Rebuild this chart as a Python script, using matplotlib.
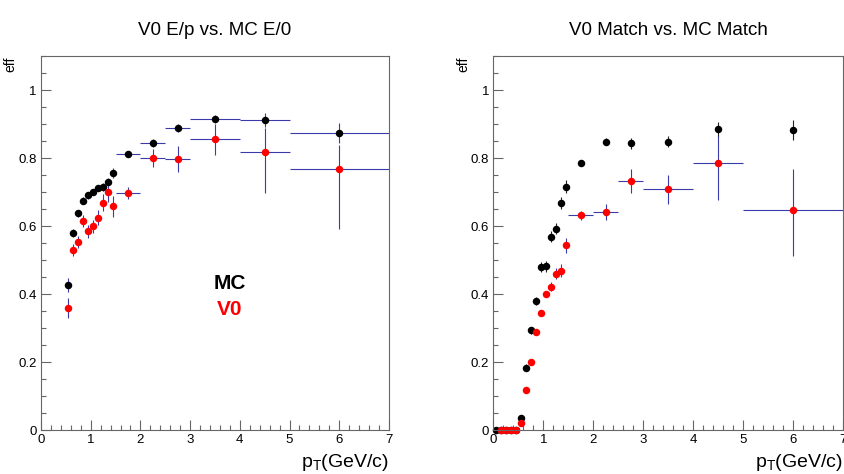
import matplotlib
matplotlib.use("Agg")
import matplotlib.pyplot as plt
from matplotlib.ticker import MultipleLocator
import numpy as np

plt.rcParams['font.family'] = ['Liberation Sans', 'DejaVu Sans']
plt.rcParams['mathtext.fontset'] = 'custom'
plt.rcParams['mathtext.rm'] = 'Liberation Sans'
plt.rcParams['mathtext.it'] = 'Liberation Sans'

# bin edges (GeV/c)
edges_ep = [0.5, 0.6, 0.7, 0.8, 0.9, 1.0, 1.1, 1.2, 1.3, 1.4, 1.5, 2.0, 2.5, 3.0, 4.0, 5.0, 7.0]
edges_mc_match = [0.0, 0.1, 0.2, 0.3, 0.4, 0.5, 0.6, 0.7, 0.8, 0.9, 1.0, 1.1, 1.2, 1.3, 1.4, 1.5,
                  2.0, 2.5, 3.0, 4.0, 5.0, 7.0]
edges_v0_match = edges_mc_match[1:]

# left panel: E/p
mc_ep = [0.427, 0.580, 0.638, 0.674, 0.690, 0.700, 0.712, 0.715, 0.729, 0.757,
         0.812, 0.843, 0.888, 0.915, 0.911, 0.874]
mc_ep_lo = [0.020, 0.012, 0.010, 0.010, 0.010, 0.010, 0.010, 0.011, 0.012, 0.015,
            0.006, 0.012, 0.012, 0.012, 0.020, 0.030]
mc_ep_hi = mc_ep_lo
v0_ep = [0.359, 0.530, 0.552, 0.615, 0.584, 0.599, 0.624, 0.669, 0.700, 0.658,
         0.697, 0.800, 0.798, 0.856, 0.818, 0.767]
v0_ep_lo = [0.030, 0.018, 0.018, 0.018, 0.018, 0.020, 0.022, 0.025, 0.028, 0.030,
            0.018, 0.027, 0.038, 0.046, 0.120, 0.176]
v0_ep_hi = [0.030, 0.018, 0.018, 0.018, 0.018, 0.020, 0.022, 0.025, 0.028, 0.030,
            0.018, 0.027, 0.036, 0.045, 0.070, 0.072]

# right panel: Match
mc_match = [0.0, 0.0, 0.0, 0.0, 0.0, 0.034, 0.183, 0.293, 0.380, 0.479, 0.481,
            0.569, 0.592, 0.668, 0.716, 0.785, 0.848, 0.844, 0.848, 0.885, 0.883]
mc_match_err = [0.0, 0.0, 0.0, 0.0, 0.0, 0.006, 0.010, 0.010, 0.012, 0.015, 0.015,
                0.016, 0.016, 0.017, 0.018, 0.005, 0.010, 0.016, 0.016, 0.022, 0.030]
v0_match = [0.0, 0.0, 0.0, 0.0, 0.022, 0.118, 0.201, 0.289, 0.344, 0.400,
            0.422, 0.460, 0.467, 0.544, 0.631, 0.642, 0.733, 0.709, 0.785, 0.648]
v0_match_lo = [0.0, 0.0, 0.0, 0.0, 0.004, 0.006, 0.006, 0.008, 0.008, 0.010,
               0.014, 0.016, 0.018, 0.022, 0.013, 0.024, 0.035, 0.045, 0.109, 0.137]
v0_match_hi = [0.0, 0.0, 0.0, 0.0, 0.004, 0.006, 0.006, 0.008, 0.008, 0.010,
               0.014, 0.016, 0.020, 0.022, 0.013, 0.023, 0.034, 0.042, 0.081, 0.121]

titles = ["V0 E/p vs. MC E/0", "V0 Match vs. MC Match"]

BLUE = '#3a3aa8'
FRAME = '#666666'


def centers(edges):
    e = np.array(edges)
    return (e[1:] + e[:-1]) / 2, (e[1:] - e[:-1]) / 2


def style_axes(ax, title):
    ax.set_xlim(0, 7)
    ax.set_ylim(0, 1.1)
    ax.xaxis.set_major_locator(MultipleLocator(1))
    ax.xaxis.set_minor_locator(MultipleLocator(0.2))
    ax.yaxis.set_minor_locator(MultipleLocator(0.05))
    ax.set_yticks([0, 0.2, 0.4, 0.6, 0.8, 1.0])
    ax.set_yticklabels(['0', '0.2', '0.4', '0.6', '0.8', '1'])
    ax.tick_params(which='both', direction='in', color=FRAME, labelsize=9.5,
                   top=False, right=False)
    ax.tick_params(which='major', length=7.5, width=0.8, pad=3)
    ax.tick_params(which='minor', length=3.8, width=0.8)
    for s in ax.spines.values():
        s.set_color(FRAME)
        s.set_linewidth(0.8)
    ax.set_title(title, fontsize=13.5, pad=15)
    ax.set_xlabel(r'p$_{\mathrm{T}}$(GeV/c)', fontsize=14, loc='right', labelpad=4)
    ax.set_ylabel('eff', fontsize=10, loc='top')
    ax.yaxis.set_label_coords(-0.067, 1.0)


fig = plt.figure(figsize=(8.45, 4.74), dpi=100)
ax1 = fig.add_axes([0.0485, 0.0928, 0.4118, 0.789])
ax2 = fig.add_axes([0.5838, 0.0928, 0.4135, 0.789])

ekw = dict(fmt='o', markersize=5.4, elinewidth=0.8, capsize=1.6, capthick=0.8,
           markeredgewidth=0, clip_on=False)

# left
x, dx = centers(edges_ep)
ax1.errorbar(x, mc_ep, yerr=[mc_ep_lo, mc_ep_hi], xerr=dx, color='black',
             ecolor=BLUE, **ekw)
ax1.errorbar(x, v0_ep, yerr=[v0_ep_lo, v0_ep_hi], xerr=dx, color='red',
             ecolor=BLUE, **ekw)
style_axes(ax1, titles[0])
ax1.text(3.8, 0.43, 'MC', fontsize=15, fontweight='bold', color='black',
         ha='center', va='center')
ax1.text(3.8, 0.355, 'V0', fontsize=15, fontweight='bold', color='red',
         ha='center', va='center')

# right
x, dx = centers(edges_mc_match)
ax2.errorbar(x, mc_match, yerr=mc_match_err, color='black', ecolor='#222222', **ekw)
x, dx = centers(edges_v0_match)
ax2.errorbar(x, v0_match, yerr=[v0_match_lo, v0_match_hi], xerr=dx, color='red',
             ecolor=BLUE, **ekw)
style_axes(ax2, titles[1])

fig.savefig('out.png', dpi=100)
